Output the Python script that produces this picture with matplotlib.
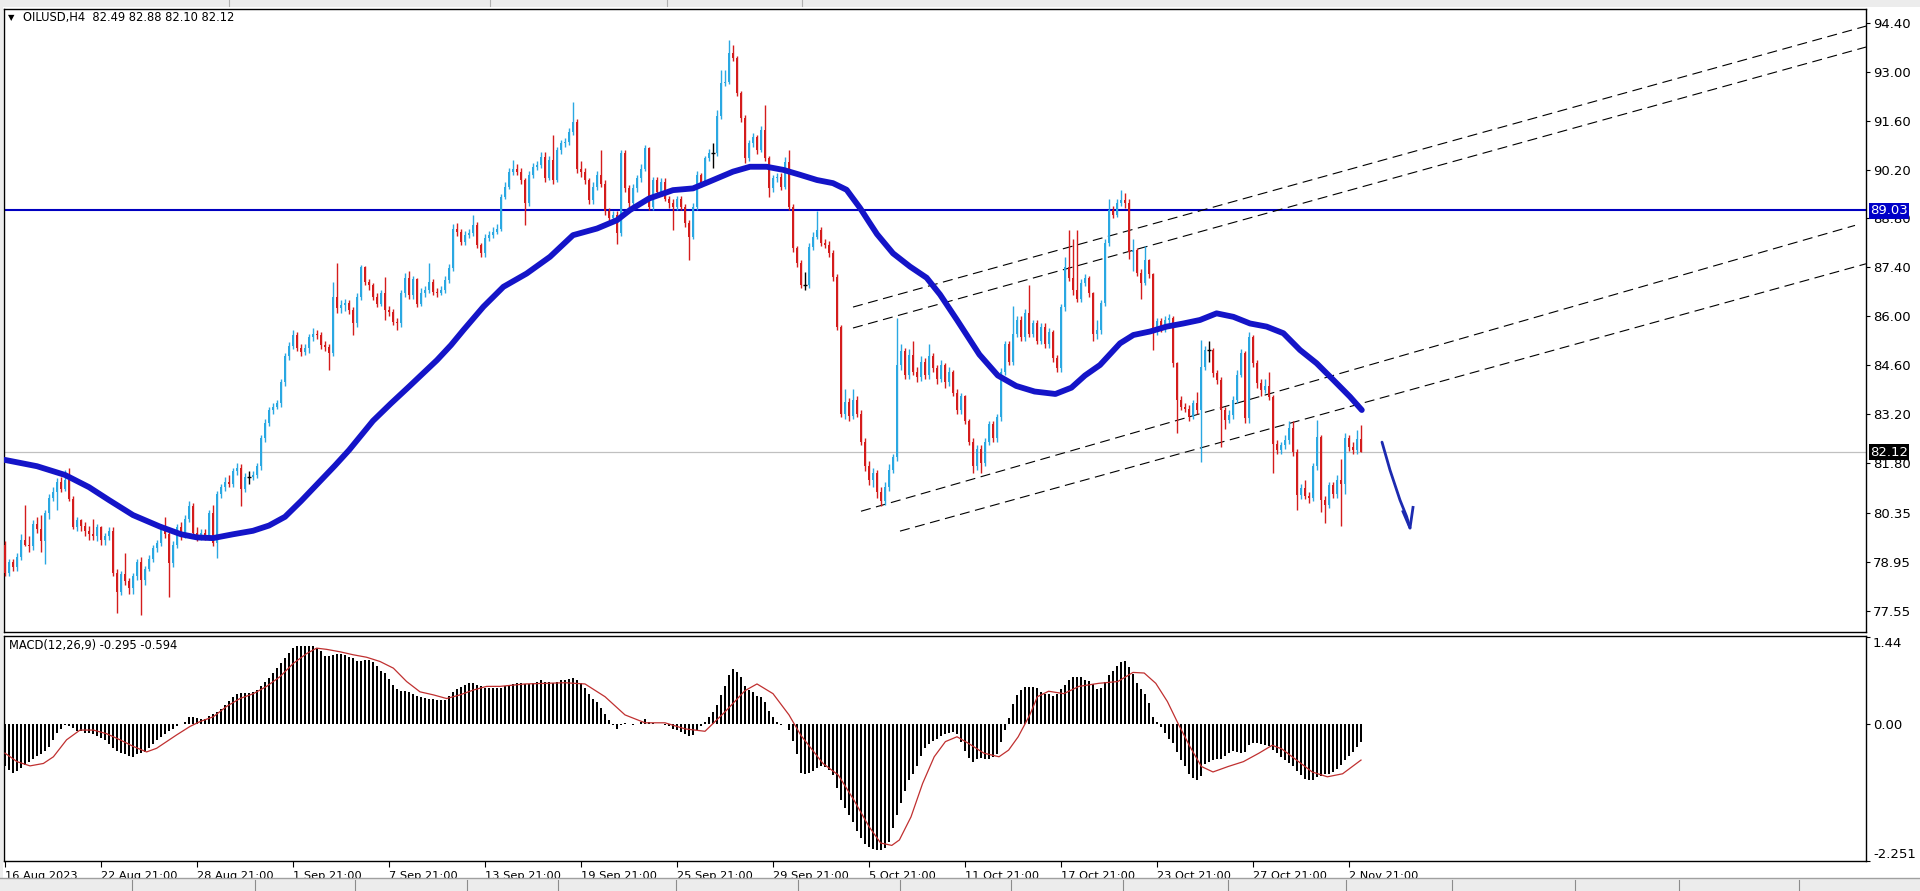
import matplotlib
matplotlib.use('Agg')
import matplotlib.pyplot as plt
import numpy as np
from matplotlib.patches import Rectangle

# ---------------- data ----------------
first_open = 79.45
closes = [
    78.65, 78.95, 78.80, 79.10, 79.60, 79.45, 79.40, 80.05, 79.90, 79.55,
    80.35, 80.80, 80.95, 81.25, 81.05, 81.30, 80.75, 79.95, 80.15, 80.00,
    79.85, 79.75, 79.70, 79.95, 79.60, 79.70, 79.85, 78.65, 78.10, 78.60,
    78.40, 78.20, 78.55, 78.95, 78.45, 78.75, 79.05, 79.35, 79.50, 79.90,
    79.75, 78.92, 79.45, 79.95, 79.75, 80.20, 80.55, 79.80, 79.70, 79.80,
    79.70, 80.35, 79.50, 80.90, 81.10, 81.25, 81.20, 81.55, 81.65, 81.05,
    81.40, 81.40, 81.45, 81.70, 82.50, 82.95, 83.30, 83.40, 83.50, 84.10,
    84.85, 85.15, 85.45, 85.10, 84.98, 85.08, 85.40, 85.50, 85.45, 85.17,
    85.12, 84.93, 86.55, 86.22, 86.32, 86.37, 86.17, 85.79, 86.55, 87.41,
    86.98, 86.89, 86.55, 86.36, 86.65, 86.17, 86.12, 85.84, 85.79, 86.65,
    87.10, 86.60, 87.05, 86.36, 86.65, 86.75, 86.98, 86.70, 86.65, 86.75,
    87.03, 87.37, 88.51, 88.40, 88.13, 88.32, 88.37, 88.61, 88.04, 87.80,
    88.23, 88.32, 88.42, 88.51, 89.42, 89.71, 90.14, 90.23, 90.14, 89.90,
    89.23, 90.04, 90.28, 90.33, 90.57, 89.95, 90.47, 89.90, 90.76, 90.95,
    90.98, 91.28, 91.57, 90.23, 90.14, 89.90, 89.33, 89.71, 90.04, 89.80,
    89.00, 88.80, 88.90, 88.37, 90.66, 89.66, 89.23, 89.66, 89.95, 90.23,
    90.81, 89.13, 89.90, 89.55, 89.85, 89.37, 89.23, 89.13, 89.37, 89.13,
    88.66, 88.27, 89.13, 90.04, 89.81, 90.52, 90.67, 90.67, 91.72, 92.67,
    92.72, 93.53, 93.39, 92.39, 91.67, 90.52, 90.95, 91.14, 90.76, 91.33,
    90.52, 89.66, 89.95, 90.00, 89.71, 90.43, 89.14, 87.94, 87.51, 86.89,
    86.89, 87.99, 88.28, 88.47, 88.09, 88.05, 87.80, 87.13, 85.70, 83.20,
    83.55, 83.15, 83.60, 83.20, 82.40, 81.70, 81.30, 81.50, 80.95, 80.70,
    81.10, 81.60, 81.95, 84.60, 85.00, 84.30, 84.90, 84.40, 84.25, 84.70,
    84.30, 84.85, 84.50, 84.20, 84.60, 84.10, 84.40, 83.80, 83.30, 83.70,
    83.00, 82.40, 81.70, 82.20, 81.80, 82.40, 82.90, 82.50, 83.10, 84.40,
    85.20, 84.70, 85.50, 85.90, 85.40, 86.10, 85.50, 85.80, 85.30, 85.70,
    85.20, 85.55, 84.80, 84.50, 86.25, 87.40, 87.10, 86.75, 86.50, 86.95,
    87.10, 86.65, 85.50, 85.60, 86.37, 88.09, 89.04, 88.90, 89.23, 89.33,
    89.25, 87.85, 87.90, 87.25, 86.95, 87.60, 87.20, 85.55, 85.85, 85.65,
    85.90, 85.95, 84.65, 83.60, 83.40, 83.35, 83.12, 83.50, 83.30, 84.55,
    85.03, 85.03, 84.36, 84.17, 83.31, 83.02, 83.17, 83.60, 84.32, 84.93,
    83.07, 85.40, 84.65, 84.07, 83.88, 84.00, 83.69, 82.35, 82.16, 82.30,
    82.45, 82.80, 82.10, 80.87, 81.07, 80.85, 80.78, 81.70, 82.55, 80.73,
    80.58, 81.15, 80.90, 81.30, 81.20, 82.50, 82.26, 82.16, 82.49, 82.12,
]
highs = [
    79.55, 79.05, 79.05, 79.20, 79.75, 80.60, 79.70, 80.15, 80.25, 80.30,
    80.45, 80.90, 81.10, 81.35, 81.40, 81.60, 81.65, 80.85, 80.25, 80.20,
    80.10, 80.00, 80.20, 80.05, 80.00, 79.80, 79.95, 79.95, 78.75, 78.70,
    79.20, 78.50, 78.65, 79.05, 79.10, 78.85, 79.15, 79.45, 79.60, 80.05,
    80.25, 79.85, 79.55, 80.05, 80.10, 80.30, 80.70, 80.65, 79.95, 79.90,
    79.90, 80.45, 80.60, 81.00, 81.20, 81.40, 81.45, 81.65, 81.80, 81.75,
    81.50, 81.55, 81.55, 81.80, 82.60, 83.05, 83.40, 83.50, 83.60, 84.20,
    84.95, 85.25, 85.60, 85.55, 85.20, 85.20, 85.50, 85.65, 85.60, 85.55,
    85.30, 85.20, 86.99, 87.51, 86.45, 86.50, 86.45, 86.25, 86.65, 87.46,
    87.45, 87.05, 86.95, 86.65, 86.75, 87.13, 86.30, 86.20, 85.95, 86.75,
    87.25, 87.30, 87.15, 87.10, 86.80, 86.85, 87.51, 87.05, 86.80, 86.85,
    87.15, 87.50, 88.65, 88.66, 88.50, 88.45, 88.50, 88.90, 88.70, 88.10,
    88.35, 88.45, 88.55, 88.65, 89.50, 89.85, 90.25, 90.47, 90.35, 90.25,
    89.95, 90.15, 90.40, 90.45, 90.70, 90.71, 90.60, 91.19, 90.85, 91.05,
    91.10, 91.40, 92.14, 91.65, 90.45, 90.25, 89.95, 89.85, 90.15, 90.76,
    89.90, 89.10, 89.00, 89.00, 90.76, 90.75, 89.75, 89.80, 90.05, 90.35,
    90.90, 90.85, 90.00, 90.00, 89.95, 89.95, 89.45, 89.35, 89.45, 89.45,
    89.20, 88.75, 89.25, 90.15, 90.10, 90.60, 90.80, 90.95, 91.91, 93.05,
    93.05, 93.91, 93.77, 93.45, 92.45, 91.75, 91.05, 91.25, 91.20, 91.45,
    92.05, 90.60, 90.05, 90.10, 90.10, 90.55, 90.76, 89.20, 88.00, 87.60,
    87.27, 88.10, 88.40, 89.00, 88.55, 88.20, 88.15, 87.90, 87.20, 85.75,
    83.90, 83.65, 83.90, 83.70, 83.30, 82.50, 81.85, 81.65, 81.60, 81.10,
    81.25, 81.75, 82.05, 85.95, 85.20, 85.10, 85.05, 85.30, 84.55, 84.85,
    84.80, 85.20, 84.95, 84.60, 84.75, 84.65, 84.55, 84.45, 83.90, 83.80,
    83.75, 83.05, 82.50, 82.30, 82.30, 82.50, 83.00, 83.00, 83.20, 84.50,
    85.30, 85.30, 86.30, 86.00, 86.00, 86.20, 86.90, 85.90, 85.90, 85.80,
    85.80, 85.65, 85.60, 84.90, 86.35, 87.70, 88.47, 88.20, 88.47, 87.05,
    87.20, 87.15, 86.70, 85.90, 86.45, 88.20, 89.37, 89.15, 89.35, 89.61,
    89.52, 89.35, 88.20, 87.95, 87.35, 88.00, 87.65, 87.25, 85.95, 85.95,
    86.00, 86.05, 86.00, 84.70, 83.70, 83.50, 83.45, 83.60, 83.83, 85.32,
    85.15, 85.30, 85.10, 84.45, 84.25, 83.40, 83.30, 83.70, 84.45, 85.05,
    85.00, 85.55, 85.45, 84.75, 84.20, 84.20, 84.40, 83.75, 82.45, 82.40,
    82.60, 83.00, 83.00, 82.20, 81.20, 81.30, 80.95, 81.80, 83.02, 82.60,
    80.85, 81.25, 81.25, 81.45, 81.90, 82.65, 82.60, 82.40, 82.75, 82.88,
]
lows = [
    78.55, 78.55, 78.70, 78.70, 79.00, 79.40, 79.25, 79.30, 79.80, 79.25,
    78.90, 80.20, 80.70, 80.45, 80.95, 81.00, 80.70, 79.90, 79.85, 79.85,
    79.70, 79.60, 79.60, 79.55, 79.45, 79.45, 79.60, 78.55, 77.50, 78.00,
    78.30, 78.05, 78.05, 78.45, 77.45, 78.30, 78.70, 78.95, 79.25, 79.40,
    79.65, 77.96, 78.80, 79.35, 79.60, 79.65, 80.10, 79.70, 79.55, 79.60,
    79.60, 79.60, 79.40, 79.06, 80.80, 81.00, 81.10, 81.10, 81.45, 80.55,
    80.95, 81.20, 81.30, 81.35, 81.60, 82.40, 82.85, 83.20, 83.35, 83.40,
    84.00, 84.75, 85.05, 85.00, 84.85, 84.90, 84.95, 85.30, 85.35, 85.05,
    85.00, 84.45, 84.85, 86.10, 86.10, 86.15, 86.05, 85.46, 85.70, 86.45,
    86.90, 86.75, 86.45, 86.25, 86.30, 85.89, 86.00, 85.75, 85.60, 85.70,
    86.55, 86.50, 86.50, 86.25, 86.30, 86.55, 86.65, 86.60, 86.55, 86.60,
    86.65, 86.95, 87.30, 88.30, 88.05, 88.05, 88.25, 88.30, 87.95, 87.70,
    87.70, 88.15, 88.25, 88.35, 88.45, 89.35, 89.65, 90.05, 90.05, 89.80,
    88.61, 89.15, 89.95, 90.20, 90.25, 89.85, 89.90, 89.80, 89.85, 90.65,
    90.85, 90.90, 91.20, 90.10, 90.00, 89.80, 89.20, 89.20, 89.60, 89.70,
    88.90, 88.70, 88.70, 88.08, 88.30, 89.55, 89.10, 89.15, 89.55, 89.85,
    90.15, 89.05, 89.05, 89.45, 89.45, 89.30, 89.10, 88.47, 89.05, 89.05,
    88.55, 87.60, 88.20, 89.05, 89.70, 89.75, 90.45, 90.25, 90.60, 91.65,
    92.60, 92.65, 93.30, 92.30, 91.55, 90.40, 90.45, 90.85, 90.65, 90.70,
    90.45, 89.42, 89.55, 89.85, 89.60, 89.65, 89.05, 87.85, 87.40, 86.80,
    86.75, 86.80, 87.90, 88.20, 88.00, 87.95, 87.70, 87.00, 85.60, 83.10,
    83.05, 83.00, 83.05, 83.10, 82.30, 81.55, 81.15, 81.10, 80.80, 80.55,
    80.60, 81.00, 81.50, 81.85, 84.45, 84.20, 84.20, 84.30, 84.10, 84.15,
    84.20, 84.20, 84.40, 84.05, 84.10, 83.95, 84.00, 83.70, 83.20, 83.20,
    82.90, 82.30, 81.50, 81.60, 81.50, 81.70, 82.30, 82.40, 82.40, 83.00,
    84.30, 84.60, 84.60, 85.40, 85.30, 85.30, 85.40, 85.40, 85.20, 85.20,
    85.10, 85.10, 84.70, 84.40, 84.40, 86.15, 87.00, 86.60, 86.40, 86.40,
    86.85, 86.55, 85.30, 85.35, 85.50, 86.30, 88.00, 88.80, 88.85, 89.15,
    89.10, 87.65, 87.30, 87.15, 86.50, 86.90, 87.10, 85.03, 85.45, 85.55,
    85.55, 85.80, 84.55, 82.64, 83.30, 83.25, 83.00, 83.05, 83.20, 81.83,
    84.45, 84.70, 84.25, 84.05, 82.26, 82.78, 82.95, 83.05, 83.50, 84.25,
    82.95, 82.95, 84.55, 83.95, 83.70, 83.80, 83.60, 81.50, 82.05, 82.05,
    82.20, 82.35, 82.00, 80.44, 80.75, 80.75, 80.65, 80.70, 81.60, 80.40,
    80.06, 80.50, 80.80, 80.80, 80.00, 80.90, 82.15, 82.05, 82.05, 82.10,
]

# moving average (thick blue), read at points along the curve
ma_bars = [0, 8, 15, 21, 26, 32, 38.75, 44, 48, 52, 57, 62, 66, 70, 74, 79, 82.5, 86, 89,
           92, 96.5, 101, 104.5, 108, 111.5, 114.6, 119.6, 124.6, 130.4, 136.25, 142,
           148, 153, 156.25, 161, 167, 172, 176, 182, 186.25, 190.4, 194.6, 198.75, 203,
           207, 210.4, 213.75, 216, 218, 222, 226.25, 230.4, 233.75, 238, 243.6, 248.2,
           252.8, 257.4, 262.6, 266.6, 270, 273.75, 278.75, 282.1, 286.25, 290.4, 294.6,
           298.75, 302.9, 307.1, 311.25, 315.4, 319.6, 323.75, 327.9, 332.1, 336.25,
           339.2]
ma_vals = [81.88, 81.70, 81.45, 81.10, 80.73, 80.30, 79.97, 79.75, 79.66, 79.64, 79.75,
           79.85, 80.00, 80.25, 80.70, 81.30, 81.72, 82.16, 82.58, 83.00, 83.50, 83.98,
           84.36, 84.74, 85.17, 85.60, 86.27, 86.84, 87.22, 87.70, 88.32, 88.51, 88.75,
           89.04, 89.37, 89.61, 89.66, 89.85, 90.14, 90.28, 90.28, 90.19, 90.05, 89.90,
           89.81, 89.62, 89.10, 88.70, 88.35, 87.80, 87.42, 87.10, 86.62, 85.89, 84.90,
           84.30, 84.00, 83.84, 83.77, 83.95, 84.30, 84.60, 85.22, 85.46, 85.56, 85.70,
           85.79, 85.89, 86.08, 85.98, 85.79, 85.70, 85.51, 85.03, 84.65, 84.17, 83.69,
           83.31]

level_price = 89.03
bid_price = 82.12

# channel lines (bar index, price)
chan_x = [[212.0, 465.25], [212.0, 465.25], [214.0, 462.5], [223.75, 465.25]]
chan_y = [[86.26, 94.31], [85.66, 93.71], [80.41, 88.60], [79.84, 87.50]]

# hand drawn arrow (bar index, price)
arrow_x = [344.25, 346.25, 348.75, 350.4, 351.25]
arrow_y = [82.39, 81.59, 80.73, 80.26, 79.93]
head_x = [349.5, 351.25, 352.0]
head_y = [80.40, 79.93, 80.52]

# MACD main line (histogram), one value per bar
macd = [
    -0.70, -0.76, -0.81, -0.78, -0.72, -0.68, -0.63, -0.57, -0.52, -0.50,
    -0.45, -0.38, -0.26, -0.14, -0.08, -0.02, -0.03, -0.07, -0.11, -0.12,
    -0.14, -0.15, -0.17, -0.20, -0.23, -0.27, -0.33, -0.40, -0.45, -0.48,
    -0.50, -0.53, -0.54, -0.50, -0.48, -0.46, -0.40, -0.33, -0.27, -0.21,
    -0.16, -0.12, -0.08, -0.04, 0.00, 0.04, 0.11, 0.11, 0.10, 0.09,
    0.08, 0.13, 0.17, 0.20, 0.24, 0.31, 0.38, 0.45, 0.50, 0.51,
    0.51, 0.51, 0.52, 0.56, 0.63, 0.69, 0.76, 0.84, 0.92, 1.00,
    1.08, 1.17, 1.26, 1.28, 1.29, 1.29, 1.29, 1.28, 1.26, 1.20,
    1.12, 1.12, 1.14, 1.15, 1.15, 1.14, 1.11, 1.08, 1.04, 1.04,
    1.06, 1.05, 1.02, 0.95, 0.88, 0.84, 0.74, 0.64, 0.57, 0.55,
    0.54, 0.53, 0.50, 0.46, 0.44, 0.43, 0.42, 0.41, 0.40, 0.40,
    0.40, 0.46, 0.53, 0.57, 0.61, 0.64, 0.67, 0.68, 0.65, 0.62,
    0.60, 0.59, 0.59, 0.59, 0.60, 0.62, 0.64, 0.66, 0.68, 0.68,
    0.66, 0.66, 0.68, 0.70, 0.72, 0.70, 0.70, 0.68, 0.70, 0.72,
    0.72, 0.74, 0.76, 0.72, 0.68, 0.60, 0.50, 0.42, 0.36, 0.26,
    0.16, 0.06, -0.02, -0.08, -0.02, 0.02, 0.00, -0.02, 0.00, 0.04,
    0.08, 0.04, 0.02, 0.00, 0.00, -0.02, -0.04, -0.08, -0.10, -0.13,
    -0.16, -0.20, -0.18, -0.10, -0.04, 0.04, 0.12, 0.20, 0.32, 0.48,
    0.62, 0.80, 0.90, 0.86, 0.78, 0.62, 0.56, 0.52, 0.46, 0.44,
    0.36, 0.22, 0.12, 0.04, -0.02, 0.00, -0.10, -0.28, -0.50, -0.80,
    -0.82, -0.80, -0.77, -0.72, -0.70, -0.71, -0.75, -0.84, -1.05, -1.25,
    -1.38, -1.50, -1.62, -1.76, -1.88, -1.97, -2.02, -2.06, -2.08, -2.08,
    -2.04, -1.94, -1.72, -1.50, -1.30, -1.10, -0.93, -0.83, -0.70, -0.52,
    -0.40, -0.33, -0.28, -0.24, -0.20, -0.16, -0.14, -0.13, -0.17, -0.30,
    -0.45, -0.56, -0.62, -0.58, -0.56, -0.58, -0.58, -0.55, -0.50, -0.30,
    -0.10, 0.10, 0.33, 0.48, 0.56, 0.61, 0.61, 0.61, 0.59, 0.53,
    0.50, 0.50, 0.46, 0.50, 0.58, 0.65, 0.72, 0.78, 0.78, 0.77,
    0.73, 0.71, 0.66, 0.58, 0.60, 0.70, 0.80, 0.88, 0.96, 1.02,
    1.04, 0.94, 0.82, 0.68, 0.58, 0.50, 0.34, 0.12, 0.04, -0.05,
    -0.14, -0.24, -0.32, -0.46, -0.60, -0.70, -0.82, -0.89, -0.92, -0.86,
    -0.66, -0.62, -0.60, -0.58, -0.57, -0.52, -0.48, -0.45, -0.46, -0.48,
    -0.46, -0.35, -0.31, -0.31, -0.33, -0.35, -0.37, -0.42, -0.48, -0.54,
    -0.60, -0.65, -0.70, -0.78, -0.84, -0.90, -0.93, -0.92, -0.88, -0.85,
    -0.83, -0.82, -0.79, -0.74, -0.67, -0.60, -0.52, -0.46, -0.38, -0.295,
]

# MACD signal line, read at points along the curve
sig_bars = [0, 3, 6.25, 9.6, 12.1, 15.4, 18.75, 22.1, 25.4, 28.75, 32.1, 35.4, 37.9,
            40.4, 42.9, 46.25, 48.75, 52.1, 55.4, 58.75, 62.1, 65.4, 68.75, 72.1, 75.4,
            77.9, 80.4, 83.75, 87.1, 90.4, 93.75, 97.1, 100.4, 103.75, 107.1, 110.4,
            113.75, 117.1, 120.4, 123.75, 130, 140, 145, 150, 155, 160, 165, 170, 175,
            180, 185, 188, 192, 196, 199, 204.5, 208.3, 212.2, 216, 218.9, 221.7, 223.6,
            226.5, 229.4, 232.3, 235.1, 238, 240.9, 244.7, 248.5, 250.9, 253.3, 256.2,
            258.1, 260.9, 264.7, 268.5, 273.4, 278.2, 282, 284.8, 287.7, 290.6, 293.4,
            296.3, 299.1, 302, 305.8, 309.6, 313.5, 316.8, 319.2, 323, 326.8, 330.6,
            334.4, 339]
sig_vals = [-0.48, -0.62, -0.69, -0.65, -0.54, -0.26, -0.10, -0.10, -0.16, -0.26, -0.37,
            -0.46, -0.40, -0.29, -0.18, -0.04, 0.04, 0.12, 0.29, 0.42, 0.50, 0.62, 0.78,
            1.00, 1.16, 1.25, 1.23, 1.19, 1.14, 1.10, 1.03, 0.92, 0.70, 0.53, 0.48, 0.42,
            0.48, 0.56, 0.62, 0.62, 0.66, 0.68, 0.66, 0.45, 0.15, 0.02, 0.02, -0.08,
            -0.12, 0.20, 0.55, 0.66, 0.50, 0.15, -0.19, -0.65, -0.84, -1.25, -1.69,
            -1.96, -2.00, -1.91, -1.53, -0.98, -0.54, -0.29, -0.21, -0.32, -0.48, -0.54,
            -0.43, -0.21, 0.15, 0.45, 0.54, 0.50, 0.62, 0.67, 0.70, 0.85, 0.84, 0.67,
            0.37, -0.01, -0.38, -0.70, -0.79, -0.70, -0.62, -0.48, -0.35, -0.41, -0.60,
            -0.79, -0.87, -0.82, -0.594]

price_ticks = [94.40, 93.00, 91.60, 90.20, 88.80, 87.40, 86.00, 84.60, 83.20, 81.80,
               80.35, 78.95, 77.55]
macd_ticks = [1.44, 0.00, -2.251]
macd_tick_labels = ['1.44', '0.00', '-2.251']
time_labels = ['16 Aug 2023', '22 Aug 21:00', '28 Aug 21:00', '1 Sep 21:00', '7 Sep 21:00',
               '13 Sep 21:00', '19 Sep 21:00', '25 Sep 21:00', '29 Sep 21:00', '5 Oct 21:00',
               '11 Oct 21:00', '17 Oct 21:00', '23 Oct 21:00', '27 Oct 21:00', '2 Nov 21:00']
bars_per_label = 24

# ---------------- figure ----------------
W, H = 1920, 891
fig = plt.figure(figsize=(W / 100, H / 100), dpi=100)
fig.patch.set_facecolor('white')
plt.rcParams['font.family'] = 'DejaVu Sans'
AXFS = 9.5


def box(x0, y0, x1, y1):
    # pixel box (top-left origin) -> figure fraction rect
    return [x0 / W, 1 - y1 / H, (x1 - x0) / W, (y1 - y0) / H]


ax = fig.add_axes(box(4, 9, 1866, 632))
axm = fig.add_axes(box(4, 636, 1866, 861))

BLUE_C = '#2aa8e2'
RED_C = '#d41c1c'
n = len(closes)
x = np.arange(n)
opens = np.array([first_open] + closes[:-1])
c = np.array(closes)
hi = np.array(highs)
lo = np.array(lows)

up = c > opens
dn = c < opens
flat = ~(up | dn)

ax.vlines(x[up], lo[up], hi[up], color=BLUE_C, lw=1, zorder=3)
ax.vlines(x[dn], lo[dn], hi[dn], color=RED_C, lw=1, zorder=3)
ax.vlines(x[flat], lo[flat], hi[flat], color='black', lw=1, zorder=3)
ax.bar(x[up], (c - opens)[up], bottom=opens[up], width=0.62, color=BLUE_C, lw=0, zorder=3)
ax.bar(x[dn], (opens - c)[dn], bottom=c[dn], width=0.62, color=RED_C, lw=0, zorder=3)
ax.hlines(c[flat], x[flat] - 0.4, x[flat] + 0.4, color='black', lw=1, zorder=3)

ax.plot(ma_bars, ma_vals, color='#1414c8', lw=4.2, solid_capstyle='round',
        solid_joinstyle='round', zorder=4)
ax.axhline(level_price, color='#0000c0', lw=1.5, zorder=2)
ax.axhline(bid_price, color='#c0c0c0', lw=0.9, zorder=1)

for xs, ys in zip(chan_x, chan_y):
    ax.plot(xs, ys, color='black', lw=0.8, dashes=(9, 5), zorder=2)

ax.plot(arrow_x, arrow_y, color='#1c2ab0', lw=2.0, solid_capstyle='round', zorder=5)
ax.plot(head_x, head_y, color='#1c2ab0', lw=2.0, solid_joinstyle='round', zorder=5)

ax.set_xlim(-0.25, 465.25)
ax.set_ylim(76.95, 94.80)
ax.set_xticks([])
ax.yaxis.tick_right()
ax.set_yticks(price_ticks)
ax.set_yticklabels(['%.2f' % v for v in price_ticks])
ax.tick_params(axis='y', direction='out', length=3, width=0.8, pad=2, labelsize=AXFS)

# MACD panel
axm.bar(x, macd, width=0.72, color='black', lw=0, zorder=3)
axm.plot(sig_bars, sig_vals, color='#c03030', lw=0.9, zorder=4)
axm.set_xlim(-0.25, 465.25)
axm.set_ylim(-2.257, 1.45)
axm.yaxis.tick_right()
axm.set_yticks(macd_ticks)
axm.set_yticklabels(macd_tick_labels)
axm.tick_params(axis='y', direction='out', length=3, width=0.8, pad=2, labelsize=AXFS)
tl = axm.get_yticklabels()
tl[0].set_va('top')
tl[2].set_va('bottom')
tick_pos = [i * bars_per_label for i in range(len(time_labels))]
axm.set_xticks(tick_pos)
axm.set_xticklabels(time_labels, ha='left')
axm.tick_params(axis='x', direction='out', length=4, width=0.8, pad=3, labelsize=8.2)

for a in (ax, axm):
    for s in a.spines.values():
        s.set_color('black')
        s.set_linewidth(1.0)

# header texts
fig.text(8 / W, 1 - 18 / H, '\u25BC', fontsize=6, va='center', ha='left')
fig.text(23 / W, 1 - 18 / H, 'OILUSD,H4  82.49 82.88 82.10 82.12', fontsize=8.3, va='center')
fig.text(9 / W, 1 - 646 / H, 'MACD(12,26,9) -0.295 -0.594', fontsize=8.3, va='center')

# price tags on the right axis (the 89.03 tag sits over the 88.80 label, as in MT4)
fig.text(1870 / W, 1 - 211 / H, '89.03', fontsize=AXFS, color='white', va='center',
         bbox=dict(boxstyle='square,pad=0.1', fc='#0000c8', ec='none'), zorder=10)
fig.text(1870 / W, 1 - 452 / H, '82.12', fontsize=AXFS, color='white', va='center',
         bbox=dict(boxstyle='square,pad=0.1', fc='black', ec='none'), zorder=10)

# window chrome: top toolbar strip, bottom tab strip, left edge
fig.patches.append(Rectangle((0, 1 - 7 / H), 1, 7 / H, transform=fig.transFigure,
                             fc='#ececec', ec='none', zorder=0))
fig.patches.append(Rectangle((0, 0), 1, 13 / H, transform=fig.transFigure,
                             fc='#ececec', ec='none', zorder=0))
fig.patches.append(Rectangle((0, 0), 3 / W, 1, transform=fig.transFigure,
                             fc='#ececec', ec='none', zorder=0))
fig.lines.append(plt.Line2D([0, 1], [13 / H, 13 / H], transform=fig.transFigure,
                            color='#a0a0a0', lw=1))
for px in [132, 255, 355, 467, 558, 676, 798, 900, 1011, 1123, 1228, 1346, 1452, 1575,
           1679, 1799]:
    fig.lines.append(plt.Line2D([px / W, px / W], [0, 11 / H], transform=fig.transFigure,
                                color='#8c8c8c', lw=0.8))
for px in [229, 490, 667, 802]:
    fig.lines.append(plt.Line2D([px / W, px / W], [1 - 6 / H, 1], transform=fig.transFigure,
                                color='#b0b0b0', lw=0.8))

fig.savefig('out.png', dpi=100, facecolor='white')
